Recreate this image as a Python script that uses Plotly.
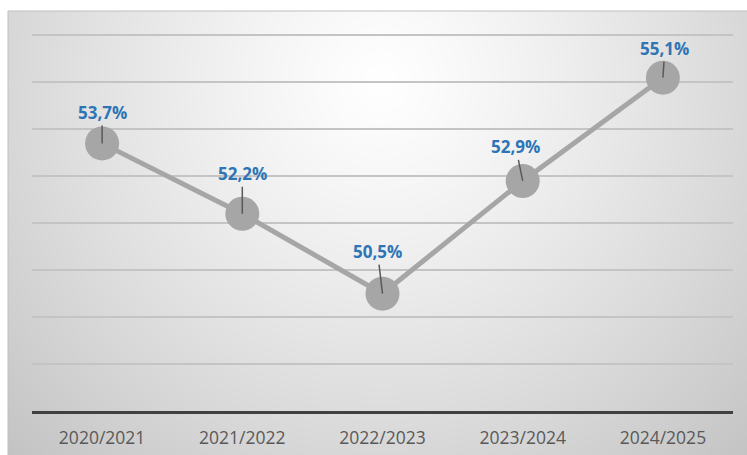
import zlib, struct, base64
import numpy as np
import plotly.graph_objects as go

# ---- data ----
categories = ["2020/2021", "2021/2022", "2022/2023", "2023/2024", "2024/2025"]
values = [53.7, 52.2, 50.5, 52.9, 55.1]
labels = ["53,7%", "52,2%", "50,5%", "52,9%", "55,1%"]
# label offsets (px) relative to point, from the picture
label_dx = [0, 0, -5, -7, 2]
label_dy = [-31, -40, -42, -34, -29]

W, H = 747, 455
ML, MR, MT, MB = 32, 14, 34, 44
PW, PH = W - ML - MR, H - MT - MB

# ---- radial gradient background image ----
BX0, BY0 = 8, 11
bw, bh = (W - BX0), (H - BY0)
sw, sh = bw // 2, bh // 2
xs = BX0 + np.arange(sw) * (bw / sw)
ys = BY0 + np.arange(sh) * (bh / sh)
X, Y = np.meshgrid(xs, ys)
d = np.sqrt(((X - 380) / 380) ** 2 + ((Y - 80) / 380) ** 2)
v = np.clip(255 - 40 * d ** 1.2, 0, 255).astype(np.uint8)


def png_gray(arr):
    h, w = arr.shape
    raw = b"".join(b"\x00" + arr[r].tobytes() for r in range(h))

    def chunk(t, data):
        c = struct.pack(">I", len(data)) + t + data
        return c + struct.pack(">I", zlib.crc32(t + data) & 0xFFFFFFFF)

    return (b"\x89PNG\r\n\x1a\n"
            + chunk(b"IHDR", struct.pack(">IIBBBBB", w, h, 8, 0, 0, 0, 0))
            + chunk(b"IDAT", zlib.compress(raw, 9))
            + chunk(b"IEND", b""))


src = "data:image/png;base64," + base64.b64encode(png_gray(v)).decode()


def px2x(px):
    return (px - ML) / PW


def py2y(py):
    return (H - MB - py) / PH


fig = go.Figure()
fig.add_trace(go.Scatter(
    x=categories, y=values, mode="lines+markers",
    line=dict(color="#A6A6A6", width=5),
    marker=dict(color="#A6A6A6", size=34, line=dict(width=0)),
    hoverinfo="skip", showlegend=False,
))

for c, val, lab, dx, dy in zip(categories, values, labels, label_dx, label_dy):
    fig.add_annotation(
        x=c, y=val, text="<b>%s</b>" % lab, showarrow=True, arrowhead=0,
        ax=dx, ay=dy, arrowcolor="#595959", arrowwidth=1.5, standoff=0,
        font=dict(family="Open Sans", size=17, color="#2E75B6"),
    )

fig.add_layout_image(dict(
    source=src, xref="paper", yref="paper",
    x=px2x(BX0), y=py2y(BY0), sizex=px2x(W) - px2x(BX0), sizey=py2y(BY0) - py2y(H),
    xanchor="left", yanchor="top", sizing="stretch", layer="below",
))
fig.add_shape(type="rect", xref="paper", yref="paper",
              x0=px2x(BX0), y0=py2y(H + 5), x1=px2x(W + 5), y1=py2y(BY0),
              line=dict(color="#BFBFBF", width=1), fillcolor="rgba(0,0,0,0)",
              layer="below")

fig.update_layout(
    width=W, height=H,
    margin=dict(l=ML, r=MR, t=MT, b=MB, pad=0, autoexpand=False),
    paper_bgcolor="white", plot_bgcolor="rgba(0,0,0,0)",
    xaxis=dict(range=[-0.5, 4.5], showgrid=False, zeroline=False,
               showline=True, linecolor="#404040", linewidth=3,
               ticks="", ticklabelstandoff=9, automargin=False,
               tickfont=dict(family="Open Sans", size=17.5, color="#595959"),
               fixedrange=True),
    yaxis=dict(range=[48, 56.03], dtick=1, showgrid=True, gridcolor="#C4C4C4",
               gridwidth=1.5, zeroline=False, showticklabels=False,
               showline=False, ticks="", automargin=False, fixedrange=True),
)

fig.write_html("out.html")
